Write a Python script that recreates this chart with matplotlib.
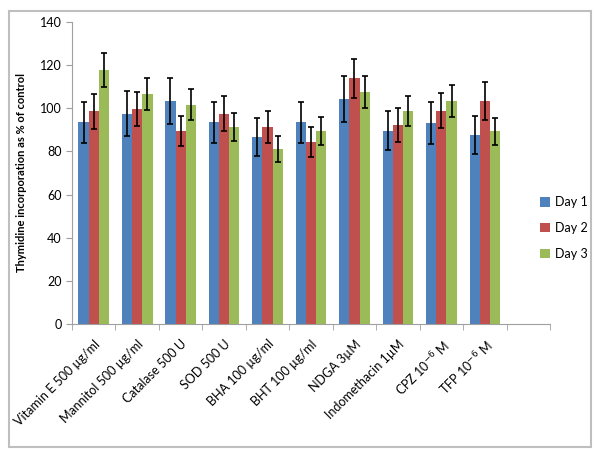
import matplotlib.pyplot as plt
import matplotlib.transforms as mtransforms
from matplotlib.patches import Rectangle
import numpy as np

plt.rcParams['font.family'] = ['Lato', 'DejaVu Sans']

# categories (the 11th slot on the axis is empty in the original)
categories = ['Vitamin E 500 µg/ml', 'Mannitol 500 µg/ml', 'Catalase 500 U', 'SOD 500 U',
              'BHA 100 µg/ml', 'BHT 100 µg/ml', 'NDGA 3µM', 'Indomethacin 1µM',
              r'CPZ 10$^{-6}$ M', r'TFP 10$^{-6}$ M', '']

day1 = [93.5, 97.5, 103.5, 93.5, 86.7, 93.5, 104.4, 89.6, 93.2, 87.6]
day2 = [98.6, 99.7, 89.6, 97.5, 91.2, 84.5, 113.9, 92.3, 98.9, 103.4]
day3 = [117.8, 106.6, 101.7, 91.2, 81.3, 89.6, 107.7, 98.9, 103.4, 89.3]

err1 = [9.5, 10.4, 10.7, 9.5, 8.6, 9.5, 10.7, 9.0, 9.6, 9.0]
err2 = [8.0, 8.0, 7.0, 8.2, 7.4, 7.0, 9.0, 7.7, 8.0, 8.6]
err3 = [8.0, 7.6, 7.3, 6.5, 6.0, 6.4, 7.4, 6.9, 7.3, 6.3]

series = ['Day 1', 'Day 2', 'Day 3']
colors = ['#4F81BD', '#C0504D', '#9BBB59']

fig = plt.figure(figsize=(6, 4.55), dpi=100)
ax = fig.add_axes([0.12, 0.288, 0.7967, 0.6636])

# outer chart frame
fig.patches.append(Rectangle((0.015, 0.018), 0.97, 0.958, transform=fig.transFigure,
                             fill=False, edgecolor='#BFBFBF', linewidth=1.5))

x = np.arange(len(day1))
w = 0.235
for k, (vals, errs) in enumerate(zip([day1, day2, day3], [err1, err2, err3])):
    ax.bar(x + (k - 1) * w, vals, width=w, color=colors[k], label=series[k],
           yerr=errs, capsize=2.5,
           error_kw=dict(ecolor='black', elinewidth=1.2, capthick=1.2))

ax.set_xlim(-0.5, len(categories) - 0.5)
ax.set_ylim(0, 140)
ax.set_yticks(range(0, 141, 20))
ax.set_xticks(np.arange(len(categories)))
ax.set_xticklabels(categories, rotation=45, ha='right', rotation_mode='anchor', fontsize=9)
# nudge the rotated labels a little to the right, like the original
shift = mtransforms.ScaledTranslation(3 / 72, 0, fig.dpi_scale_trans)
for lbl in ax.get_xticklabels():
    lbl.set_transform(lbl.get_transform() + shift)
ax.set_xticks(np.arange(-0.5, len(categories)), minor=True)
ax.tick_params(axis='x', which='major', length=0, pad=10)
ax.tick_params(axis='x', which='minor', length=4, color='#A0A0A0')
ax.tick_params(axis='y', length=4, color='#A0A0A0', labelsize=9)

for s in ['top', 'right']:
    ax.spines[s].set_visible(False)
for s in ['left', 'bottom']:
    ax.spines[s].set_color('#A0A0A0')

ax.set_ylabel('Thymidine incorporation as % of control', fontsize=8, fontweight='bold', labelpad=9)

ax.legend(loc='center left', bbox_to_anchor=(0.955, 0.318), frameon=False, fontsize=9,
          handlelength=0.8, handleheight=0.8, labelspacing=1.1, handletextpad=0.4)

plt.savefig('out.png', dpi=100)
